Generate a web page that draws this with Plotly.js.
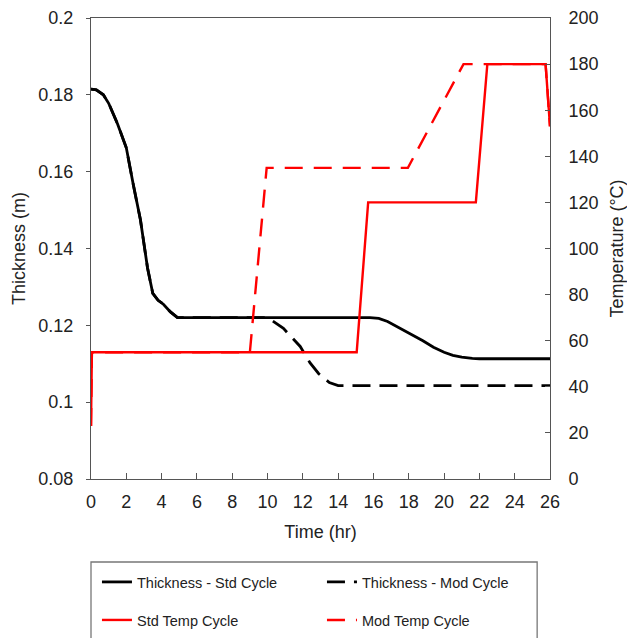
<!DOCTYPE html>
<html>
<head>
<meta charset="utf-8">
<script src="https://cdn.plot.ly/plotly-3.0.1.min.js"></script>
<style>html,body{margin:0;padding:0;background:#fff;}#chart{width:627px;height:638px;}</style>
</head>
<body>
<div id="chart"></div>
<script>
// Thickness - Std Cycle
const stdThickTime = [0, 0.3, 0.7, 1.0, 1.5, 2.0, 2.4, 2.8, 3.2, 3.5, 3.8, 4.1, 4.5, 4.9, 15.8, 16.3, 16.8, 17.4, 18.1, 18.8, 19.4, 20.0, 20.5, 21.0, 21.6, 22.0, 26];
const stdThick = [0.1815, 0.1813, 0.1800, 0.1778, 0.1725, 0.1662, 0.1565, 0.1475, 0.1350, 0.1283, 0.1265, 0.1255, 0.1235, 0.1220, 0.1220, 0.1218, 0.1210, 0.1195, 0.1178, 0.1160, 0.1143, 0.1130, 0.1122, 0.1117, 0.1114, 0.1113, 0.1113];
// Thickness - Mod Cycle
const modThickTime = [0, 0.3, 0.7, 1.0, 1.5, 2.0, 2.4, 2.8, 3.2, 3.5, 3.8, 4.1, 4.5, 4.9, 9.9, 10.15, 10.9, 11.85, 12.4, 12.9, 13.5, 14.0, 26];
const modThick = [0.1815, 0.1813, 0.1800, 0.1778, 0.1725, 0.1662, 0.1565, 0.1475, 0.1350, 0.1283, 0.1265, 0.1255, 0.1235, 0.1220, 0.1220, 0.1216, 0.1192, 0.1145, 0.1103, 0.1074, 0.1051, 0.1043, 0.1043];
// Std Temp Cycle
const stdTempTime = [0, 0.05, 15.05, 15.7, 21.8, 22.45, 25.75, 26];
const stdTemp = [23, 55, 55, 120, 120, 180, 180, 153];
// Mod Temp Cycle
const modTempTime = [0, 0.05, 9.0, 9.95, 17.95, 21.1, 25.75, 26];
const modTemp = [23, 55, 55, 135, 135, 180, 180, 153];

const names = ['Thickness - Std Cycle', 'Thickness - Mod Cycle', 'Std Temp Cycle', 'Mod Temp Cycle'];
const FONT = 'Liberation Sans, Arial, sans-serif';
const TXT = '#222';

const traces = [
  {x: stdThickTime, y: stdThick, name: names[0], mode: 'lines', line: {color: '#000', width: 2.8}, yaxis: 'y', legend: 'legend'},
  {x: modThickTime, y: modThick, name: names[1], mode: 'lines', line: {color: '#000', width: 2.8, dash: '18px,9px'}, yaxis: 'y', legend: 'legend'},
  {x: stdTempTime, y: stdTemp, name: names[2], mode: 'lines', line: {color: '#ff0000', width: 2.4}, yaxis: 'y2', legend: 'legend2'},
  {x: modTempTime, y: modTemp, name: names[3], mode: 'lines', line: {color: '#ff0000', width: 2.4, dash: '18px,11px'}, yaxis: 'y2', legend: 'legend2'}
];

const legendBase = {
  orientation: 'h', xanchor: 'left', yanchor: 'middle',
  entrywidth: 180, entrywidthmode: 'pixels',
  borderwidth: 0, bgcolor: 'rgba(0,0,0,0)',
  font: {size: 14.5, family: FONT, color: TXT},
  traceorder: 'normal'
};

const layout = {
  width: 627, height: 638,
  margin: {l: 91, r: 77, t: 18, b: 159, autoexpand: false},
  paper_bgcolor: '#fff', plot_bgcolor: '#fff',
  font: {family: FONT, size: 18, color: TXT},
  showlegend: true,
  xaxis: {
    range: [0, 26], dtick: 2, tick0: 0,
    showgrid: false, zeroline: false,
    showline: true, linecolor: '#555', linewidth: 1, mirror: true,
    ticks: 'inside', ticklen: 6, tickcolor: '#555',
    ticklabelstandoff: 6,
    tickfont: {size: 18, family: FONT, color: TXT},
    title: {text: 'Time (hr)', font: {size: 18, family: FONT, color: TXT}, standoff: 14}
  },
  yaxis: {
    range: [0.08, 0.2], dtick: 0.02, tick0: 0.08,
    showgrid: false, zeroline: false,
    showline: true, linecolor: '#555', linewidth: 1,
    ticks: 'outside', ticklen: 4, tickcolor: '#555',
    ticklabelstandoff: 9,
    tickfont: {size: 18, family: FONT, color: TXT},
    title: {text: 'Thickness (m)', font: {size: 18, family: FONT, color: TXT}, standoff: 8}
  },
  yaxis2: {
    range: [0, 200], dtick: 20, tick0: 0,
    overlaying: 'y', side: 'right',
    showgrid: false, zeroline: false,
    showline: true, linecolor: '#555', linewidth: 1,
    ticks: 'inside', ticklen: 5, tickcolor: '#555',
    ticklabelstandoff: 14,
    tickfont: {size: 18, family: FONT, color: TXT},
    title: {text: 'Temperature (°C)', font: {size: 18, family: FONT, color: TXT}, standoff: 12}
  },
  legend: Object.assign({}, legendBase, {x: 0.013, y: -0.2234}),
  legend2: Object.assign({}, legendBase, {x: 0.013, y: -0.3059}),
  shapes: [{
    type: 'rect', xref: 'paper', yref: 'paper',
    x0: 0.0, x1: 0.972, y0: -0.18, y1: -0.40,
    line: {color: '#777', width: 1.3}, fillcolor: 'rgba(0,0,0,0)', layer: 'below'
  }]
};

Plotly.newPlot('chart', traces, layout, {displayModeBar: false, staticPlot: true});
</script>
</body>
</html>
